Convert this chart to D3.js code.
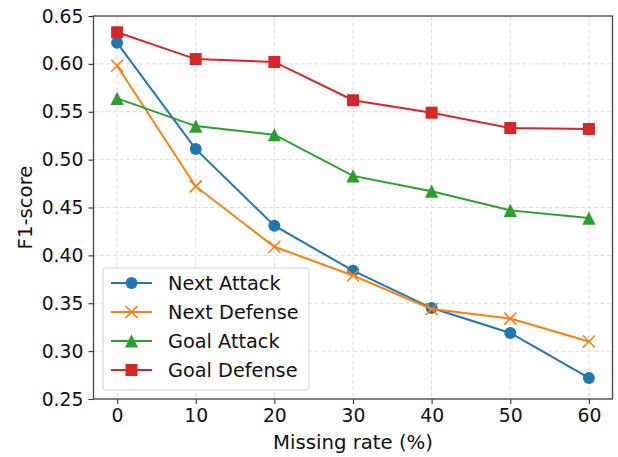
<!DOCTYPE html>
<html>
<head>
<meta charset="utf-8">
<script src="https://cdn.jsdelivr.net/npm/d3@7"></script>
<style>
  body { margin: 0; background: #fff; }
  svg { display: block; font-family: "DejaVu Sans", sans-serif; }
</style>
</head>
<body>
<div id="chart"></div>
<script>
// missing rate (%) on x
var rates = [0, 10, 20, 30, 40, 50, 60];
var nextAttack  = [0.622, 0.511, 0.431, 0.384, 0.345, 0.319, 0.272];
var nextDefense = [0.598, 0.472, 0.409, 0.379, 0.344, 0.334, 0.310];
var goalAttack  = [0.564, 0.535, 0.526, 0.483, 0.467, 0.447, 0.439];
var goalDefense = [0.633, 0.605, 0.602, 0.562, 0.549, 0.533, 0.532];
var seriesNames = ["Next Attack", "Next Defense", "Goal Attack", "Goal Defense"];
var xTicks = [0, 10, 20, 30, 40, 50, 60];
var yTicks = [0.25, 0.30, 0.35, 0.40, 0.45, 0.50, 0.55, 0.60, 0.65];

var series = [
  { name: seriesNames[0], values: nextAttack,  color: "#1f77b4", marker: "circle" },
  { name: seriesNames[1], values: nextDefense, color: "#ff7f0e", marker: "x" },
  { name: seriesNames[2], values: goalAttack,  color: "#2ca02c", marker: "triangle" },
  { name: seriesNames[3], values: goalDefense, color: "#d62728", marker: "square" }
];

var W = 618, H = 457;
var m = { left: 93.5, right: 5.5, top: 16, bottom: 58 };
var iw = W - m.left - m.right, ih = H - m.top - m.bottom;

var svg = d3.select("#chart").append("svg").attr("width", W).attr("height", H);
var g = svg.append("g").attr("transform", "translate(" + m.left + "," + m.top + ")");

var x = d3.scaleLinear().domain([-3, 63]).range([0, iw]);
var y = d3.scaleLinear().domain([0.25, 0.65]).range([ih, 0]);

// grid
g.append("g").selectAll("line").data(xTicks).join("line")
  .attr("x1", d => x(d)).attr("x2", d => x(d)).attr("y1", 0).attr("y2", ih)
  .attr("stroke", "#dcdcdc").attr("stroke-width", 1).attr("stroke-dasharray", "4,2.5");
g.append("g").selectAll("line").data(yTicks).join("line")
  .attr("y1", d => y(d)).attr("y2", d => y(d)).attr("x1", 0).attr("x2", iw)
  .attr("stroke", "#dcdcdc").attr("stroke-width", 1).attr("stroke-dasharray", "4,2.5");

// axes
var xAxis = g.append("g").attr("transform", "translate(0," + ih + ")")
  .call(d3.axisBottom(x).tickValues(xTicks).tickFormat(d3.format("d")).tickSize(5).tickPadding(5));
var yAxis = g.append("g")
  .call(d3.axisLeft(y).tickValues(yTicks).tickFormat(d3.format(".2f")).tickSize(5).tickPadding(5));
[xAxis, yAxis].forEach(function(a) {
  a.select(".domain").remove();
  a.selectAll("line").attr("stroke", "#333").attr("stroke-width", 1.1);
  a.selectAll("text").attr("font-size", 18.8).attr("fill", "#111")
   .attr("font-family", "DejaVu Sans, sans-serif");
});

g.append("rect").attr("width", iw).attr("height", ih)
  .attr("fill", "none").attr("stroke", "#444").attr("stroke-width", 1.3);

function drawMarker(sel, type, color, s) {
  if (type === "circle") {
    sel.append("circle").attr("r", s * 0.5).attr("fill", color);
  } else if (type === "square") {
    sel.append("rect").attr("x", -s / 2).attr("y", -s / 2).attr("width", s).attr("height", s).attr("fill", color);
  } else if (type === "triangle") {
    var h = s * 0.55;
    sel.append("path").attr("d", "M0," + (-h) + "L" + h + "," + h + "L" + (-h) + "," + h + "Z").attr("fill", color);
  } else {
    var k = s * 0.5;
    sel.append("path").attr("d", "M" + (-k) + "," + (-k) + "L" + k + "," + k + "M" + (-k) + "," + k + "L" + k + "," + (-k))
      .attr("stroke", color).attr("stroke-width", 1.6).attr("fill", "none");
  }
}

var line = d3.line().x((d, i) => x(rates[i])).y(d => y(d));
var MS = 12;

series.forEach(function(s) {
  var sg = g.append("g");
  sg.append("path").datum(s.values).attr("d", line)
    .attr("fill", "none").attr("stroke", s.color).attr("stroke-width", 2);
  sg.selectAll("g.mk").data(s.values).join("g").attr("class", "mk")
    .attr("transform", (d, i) => "translate(" + x(rates[i]) + "," + y(d) + ")")
    .each(function() { drawMarker(d3.select(this), s.marker, s.color, MS); });
});

// legend
var lg = g.append("g").attr("transform", "translate(" + (103 - m.left) + "," + (268 - m.top) + ")");
lg.append("rect").attr("width", 206).attr("height", 122).attr("rx", 3)
  .attr("fill", "#fff").attr("fill-opacity", 0.8).attr("stroke", "#d0d0d0").attr("stroke-width", 1);
series.forEach(function(s, i) {
  var row = lg.append("g").attr("transform", "translate(0," + (15 + i * 29) + ")");
  row.append("line").attr("x1", 8).attr("x2", 49).attr("stroke", s.color).attr("stroke-width", 2);
  var mk = row.append("g").attr("transform", "translate(28.5,0)");
  drawMarker(mk, s.marker, s.color, MS);
  row.append("text").attr("x", 65).attr("dy", "0.35em").attr("font-size", 19.3).attr("fill", "#111").text(s.name);
});

// axis titles
svg.append("text").attr("x", m.left + iw / 2).attr("y", 449).attr("text-anchor", "middle")
  .attr("font-size", 19.7).attr("fill", "#111").text("Missing rate (%)");
svg.append("text").attr("transform", "translate(32," + (m.top + ih / 2) + ") rotate(-90)")
  .attr("text-anchor", "middle").attr("font-size", 19.7).attr("fill", "#111").text("F1-score");
</script>
</body>
</html>
